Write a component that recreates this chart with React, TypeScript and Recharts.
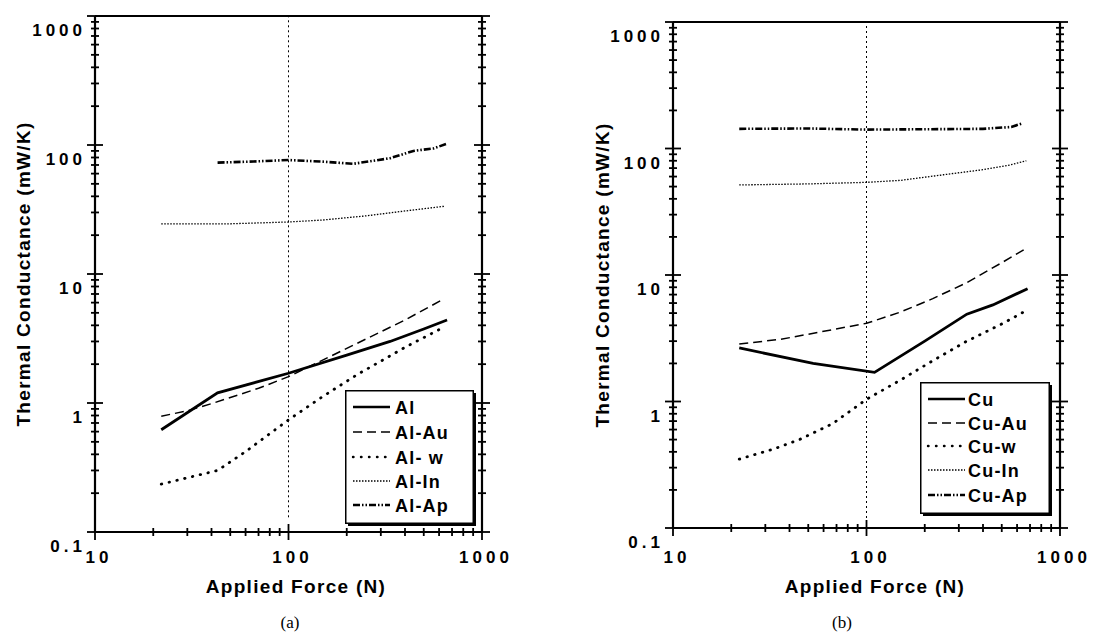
import React from 'react';
import { LineChart, Line, XAxis, YAxis, ReferenceLine, Legend } from 'recharts';

// ---------- Panel (a): Aluminium ----------
const alForce = [22, 43, 100, 200, 335, 500, 660];
const alValues = [0.62, 1.2, 1.7, 2.35, 3.0, 3.75, 4.4];

const alAuForce = [22, 30, 41, 70, 100, 200, 400, 610];
const alAuValues = [0.79, 0.87, 1.0, 1.3, 1.6, 2.65, 4.4, 6.2];

const alWForce = [22, 43, 60, 100, 150, 225, 400, 620];
const alWValues = [0.235, 0.3, 0.42, 0.74, 1.12, 1.65, 2.7, 3.8];

const alInForce = [22, 50, 100, 150, 250, 400, 640];
const alInValues = [24.5, 24.5, 25.3, 26.2, 28.2, 30.8, 33.5];

const alApForce = [43, 66, 100, 151, 216, 335, 442, 560, 656];
const alApValues = [73, 74.5, 76.5, 74.3, 71.5, 79, 90, 94, 102];

// ---------- Panel (b): Copper ----------
const cuForce = [22, 53, 110, 200, 330, 450, 680];
const cuValues = [2.65, 2.0, 1.7, 3.0, 4.9, 5.8, 7.8];

const cuAuForce = [22, 36, 100, 150, 220, 330, 500, 680];
const cuAuValues = [2.85, 3.1, 4.15, 5.1, 6.5, 8.7, 12.5, 16.5];

const cuWForce = [22, 33, 45, 67, 100, 150, 220, 330, 500, 680];
const cuWValues = [0.35, 0.42, 0.5, 0.67, 1.04, 1.48, 2.1, 3.0, 4.1, 5.3];

const cuInForce = [22, 50, 100, 150, 250, 400, 550, 670];
const cuInValues = [51.5, 52.5, 54, 56, 62, 68, 74, 80];

const cuApForce = [22, 50, 100, 200, 400, 560, 640];
const cuApValues = [143, 144, 141, 142, 143, 148, 158];

// ---------- Axes ----------
const xMajorTicks = [10, 100, 1000];
const xTickLabels = ['10', '100', '1000'];
const yMajorTicks = [0.1, 1, 10, 100, 1000];
const yTickLabels = ['0.1', '1', '10', '100', '1000'];
const minorMultipliers = [2, 3, 4, 5, 6, 7, 8, 9];

const buildTicks = (majors: number[]) =>
  majors.flatMap((m, i) => (i < majors.length - 1 ? [m, ...minorMultipliers.map((k) => m * k)] : [m]));

const xTicks = buildTicks(xMajorTicks);
const yTicks = buildTicks(yMajorTicks);

const FONT = '"Liberation Sans", Arial, Helvetica, sans-serif';
const tickFont: React.CSSProperties = { fontFamily: FONT, fontWeight: 700, fontSize: 17, letterSpacing: 4, fill: '#000' };
const titleFont: React.CSSProperties = { fontFamily: FONT, fontWeight: 700, fontSize: 19, letterSpacing: 1.3, fill: '#000' };
const legendFont: React.CSSProperties = { fontFamily: FONT, fontWeight: 700, fontSize: 18, letterSpacing: 1.2, fill: '#000' };

const toPoints = (f: number[], v: number[]) => f.map((x, i) => ({ x, y: v[i] }));

type SeriesDef = { name: string; data: { x: number; y: number }[]; width: number; dash?: string; cap?: 'round' | 'butt' };

const STYLE_SOLID = { width: 2.8, dash: undefined };
const STYLE_DASH = { width: 1.5, dash: '9 5' };
const STYLE_DOT = { width: 2.8, dash: '0.5 7.5', cap: 'round' as const };
const STYLE_FINE = { width: 1.3, dash: '1.5 1.5' };
const STYLE_DASHDOT = { width: 2.6, dash: '7 2 1.5 2 1.5 2' };

const alSeries: SeriesDef[] = [
  { name: 'Al', data: toPoints(alForce, alValues), ...STYLE_SOLID },
  { name: 'Al-Au', data: toPoints(alAuForce, alAuValues), ...STYLE_DASH },
  { name: 'Al- w', data: toPoints(alWForce, alWValues), ...STYLE_DOT },
  { name: 'Al-In', data: toPoints(alInForce, alInValues), ...STYLE_FINE },
  { name: 'Al-Ap', data: toPoints(alApForce, alApValues), ...STYLE_DASHDOT },
];

const cuSeries: SeriesDef[] = [
  { name: 'Cu', data: toPoints(cuForce, cuValues), ...STYLE_SOLID },
  { name: 'Cu-Au', data: toPoints(cuAuForce, cuAuValues), ...STYLE_DASH },
  { name: 'Cu-w', data: toPoints(cuWForce, cuWValues), ...STYLE_DOT },
  { name: 'Cu-In', data: toPoints(cuInForce, cuInValues), ...STYLE_FINE },
  { name: 'Cu-Ap', data: toPoints(cuApForce, cuApValues), ...STYLE_DASHDOT },
];

const majorIndex = (arr: number[], v: number) => arr.findIndex((m) => Math.abs(m - v) / m < 1e-6);

const makeYTick = (withLabel: boolean) => (props: any) => {
  const { x, y, payload } = props;
  const idx = majorIndex(yMajorTicks, payload.value);
  const len = idx >= 0 ? 8 : 4;
  return (
    <g>
      <line x1={x - len} x2={x + len} y1={y} y2={y} stroke="#000" strokeWidth={1.8} />
      {withLabel && idx >= 0 ? (
        <text x={x - 9} y={y + 20} textAnchor="end" style={tickFont}>
          {yTickLabels[idx]}
        </text>
      ) : null}
    </g>
  );
};

const makeXTick = (labelBaseline: number | null) => (props: any) => {
  const { x, y, payload } = props;
  const idx = majorIndex(xMajorTicks, payload.value);
  const len = idx >= 0 ? 8 : 4;
  return (
    <g>
      <line x1={x} x2={x} y1={y - len} y2={y + len} stroke="#000" strokeWidth={1.8} />
      {labelBaseline !== null && idx >= 0 ? (
        <text x={x + 4} y={y + labelBaseline} textAnchor="middle" style={tickFont}>
          {xTickLabels[idx]}
        </text>
      ) : null}
    </g>
  );
};

const LegendBox = ({ items, w, h, rows, textX }: { items: SeriesDef[]; w: number; h: number; rows: number[]; textX: number }) => (
  <svg width={w + 4} height={h + 4} style={{ display: 'block', overflow: 'visible' }}>
    <rect x={3} y={3} width={w} height={h} fill="#000" />
    <rect x={0.75} y={0.75} width={w - 0.5} height={h - 0.5} fill="#fff" stroke="#000" strokeWidth={1.5} />
    {items.map((s, i) => (
      <g key={s.name}>
        <line
          x1={8}
          x2={45}
          y1={rows[i]}
          y2={rows[i]}
          stroke="#000"
          strokeWidth={Math.min(s.width, 2.4)}
          strokeDasharray={s.dash}
          strokeLinecap={s.cap ?? 'butt'}
        />
        <text x={textX} y={rows[i] + 6.5} style={legendFont}>
          {s.name}
        </text>
      </g>
    ))}
  </svg>
);

type PanelProps = {
  series: SeriesDef[];
  left: number;
  width: number;
  plot: { top: number; left: number; right: number; bottom: number };
  refSegmentBottom: number;
  legendPos: { left: number; top: number; w: number; h: number; rows: number[]; textX: number };
  yTitleX: number;
  xTitleX: number;
  xTitleY: number;
  capX: number;
  caption: string;
  xLabelBaseline: number;
};

const AX = 1; // axis thickness reserved by each axis

const Panel = (p: PanelProps) => {
  const H = 636;
  const margin = {
    top: p.plot.top - AX,
    left: p.plot.left - AX,
    right: p.width - p.plot.right - AX,
    bottom: H - p.plot.bottom - AX,
  };
  const yTitleY = (p.plot.top + p.plot.bottom) / 2;
  return (
    <div style={{ position: 'absolute', left: p.left, top: 0, width: p.width, height: H }}>
      <LineChart width={p.width} height={H} margin={margin}>
        <XAxis
          dataKey="x"
          type="number"
          scale="log"
          domain={[10, 1000]}
          allowDataOverflow
          ticks={xTicks}
          interval={0}
          tickSize={0}
          tickMargin={0}
          tickLine={false}
          height={AX}
          axisLine={{ stroke: '#000', strokeWidth: 2.2 }}
          tick={makeXTick(p.xLabelBaseline)}
          label={() => (
            <g>
              <text x={p.xTitleX} y={p.xTitleY} textAnchor="middle" style={titleFont}>
                Applied Force (N)
              </text>
              <text
                x={p.capX}
                y={628}
                textAnchor="middle"
                style={{ fontFamily: '"Liberation Serif", "Times New Roman", serif', fontSize: 17, fill: '#000' }}
              >
                {p.caption}
              </text>
            </g>
          )}
        />
        <XAxis
          xAxisId="top"
          orientation="top"
          type="number"
          scale="log"
          domain={[10, 1000]}
          allowDataOverflow
          ticks={xTicks}
          interval={0}
          tickSize={0}
          tickMargin={0}
          tickLine={false}
          height={AX}
          axisLine={{ stroke: '#000', strokeWidth: 2.2 }}
          tick={makeXTick(null)}
        />
        <YAxis
          type="number"
          scale="log"
          domain={[0.1, 1000]}
          allowDataOverflow
          ticks={yTicks}
          interval={0}
          tickSize={0}
          tickMargin={0}
          tickLine={false}
          width={AX}
          axisLine={{ stroke: '#000', strokeWidth: 2.2 }}
          tick={makeYTick(true)}
          label={() => (
            <text
              x={p.yTitleX}
              y={yTitleY}
              transform={`rotate(-90 ${p.yTitleX} ${yTitleY})`}
              textAnchor="middle"
              dominantBaseline="central"
              style={titleFont}
            >
              Thermal Conductance (mW/K)
            </text>
          )}
        />
        <YAxis
          yAxisId="right"
          orientation="right"
          type="number"
          scale="log"
          domain={[0.1, 1000]}
          allowDataOverflow
          ticks={yTicks}
          interval={0}
          tickSize={0}
          tickMargin={0}
          tickLine={false}
          width={AX}
          axisLine={{ stroke: '#000', strokeWidth: 2.2 }}
          tick={makeYTick(false)}
        />
        <ReferenceLine
          segment={[
            { x: 100, y: p.refSegmentBottom },
            { x: 100, y: 1000 },
          ]}
          stroke="#000"
          strokeWidth={1}
          strokeDasharray="2 3"
        />
        {p.series.map((s) => (
          <Line
            key={s.name}
            data={s.data}
            dataKey="y"
            name={s.name}
            type="linear"
            stroke="#000"
            strokeWidth={s.width}
            strokeDasharray={s.dash}
            strokeLinecap={s.cap ?? 'butt'}
            dot={false}
            activeDot={false}
            isAnimationActive={false}
          />
        ))}
        <Legend
          layout="vertical"
          align="center"
          verticalAlign="middle"
          wrapperStyle={{ position: 'absolute', left: p.legendPos.left, top: p.legendPos.top, width: p.legendPos.w + 4, height: p.legendPos.h + 4 }}
          content={() => (
            <LegendBox items={p.series} w={p.legendPos.w} h={p.legendPos.h} rows={p.legendPos.rows} textX={p.legendPos.textX} />
          )}
        />
      </LineChart>
    </div>
  );
};

export default function App() {
  return (
    <div style={{ position: 'absolute', left: 0, top: 0, width: 1093, height: 636, background: '#fff' }}>
      <Panel
        series={alSeries}
        left={0}
        width={546}
        plot={{ top: 16, left: 95, right: 482, bottom: 532 }}
        refSegmentBottom={0.13}
        legendPos={{ left: 345, top: 390, w: 128, h: 133, rows: [17, 42, 67, 91, 115], textX: 50 }}
        yTitleX={23}
        xTitleX={296}
        xTitleY={593}
        capX={290}
        caption="(a)"
        xLabelBaseline={31}
      />
      <Panel
        series={cuSeries}
        left={546}
        width={547}
        plot={{ top: 22, left: 127, right: 514, bottom: 528 }}
        refSegmentBottom={0.1}
        legendPos={{ left: 374, top: 382, w: 129, h: 131, rows: [17, 41, 64, 88, 113], textX: 48 }}
        yTitleX={56}
        xTitleX={329}
        xTitleY={593}
        capX={296}
        caption="(b)"
        xLabelBaseline={35}
      />
    </div>
  );
}
